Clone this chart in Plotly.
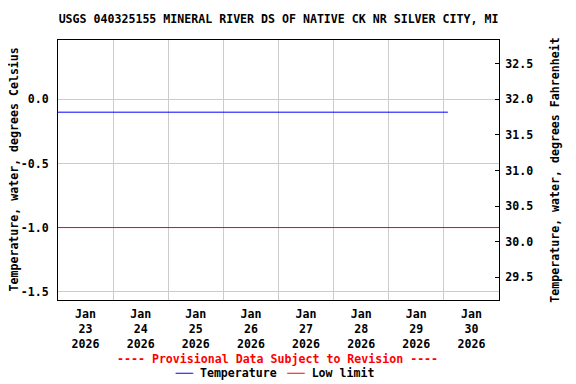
import plotly.graph_objects as go

# ---- data ----
temp_times = ["2026-01-23 00:00", "2026-01-30 01:45"]
temp_c = [-0.1, -0.1]
limit_times = ["2026-01-23 00:00", "2026-01-31 00:00"]
low_limit_c = [-1.0, -1.0]

x_tick_vals = ["2026-01-23 12:00", "2026-01-24 12:00", "2026-01-25 12:00", "2026-01-26 12:00",
               "2026-01-27 12:00", "2026-01-28 12:00", "2026-01-29 12:00", "2026-01-30 12:00"]
x_tick_text = ["Jan<br>23<br>2026", "Jan<br>24<br>2026", "Jan<br>25<br>2026", "Jan<br>26<br>2026",
               "Jan<br>27<br>2026", "Jan<br>28<br>2026", "Jan<br>29<br>2026", "Jan<br>30<br>2026"]
y_ticks_c = [0.0, -0.5, -1.0, -1.5]
y_ticks_f = [29.5, 30.0, 30.5, 31.0, 31.5, 32.0, 32.5]
c_range = [-1.565, 0.463]
f_range = [c * 1.8 + 32 for c in c_range]
temp_f = [c * 1.8 + 32 for c in temp_c]

title_text = "USGS 040325155 MINERAL RIVER DS OF NATIVE CK NR SILVER CITY, MI"

FONT = "DejaVu Sans Mono"
FS = 11.6
OFF = 8  # page body margin offset

fig = go.Figure()
fig.add_trace(go.Scatter(x=temp_times, y=temp_c, mode="lines", name="Temperature",
                         line=dict(color="#0000ff", width=1), showlegend=False))
fig.add_trace(go.Scatter(x=limit_times, y=low_limit_c, mode="lines", name="Low limit",
                         line=dict(color="#ff0000", width=1), showlegend=False))
# Fahrenheit companion (invisible) so the right axis is drawn
fig.add_trace(go.Scatter(x=temp_times, y=temp_f, mode="lines", yaxis="y2",
                         line=dict(color="rgba(0,0,0,0)", width=1), hoverinfo="skip",
                         showlegend=False))

fig.update_layout(
    width=576, height=384,
    margin=dict(l=58 - OFF, r=576 - (499 - OFF), t=40 - OFF, b=384 - (300 - OFF),
                autoexpand=False),
    paper_bgcolor="white", plot_bgcolor="white",
    font=dict(family=FONT, size=FS, color="black", weight="bold"),
    title=dict(text=title_text, x=(278.5 - OFF) / 576, xanchor="center",
               y=1 - (19 - OFF) / 384, yanchor="middle",
               font=dict(family=FONT, size=FS, color="black", weight="bold")),
    xaxis=dict(
        type="date", range=["2026-01-23 00:00", "2026-01-31 00:00"], automargin=False,
        tickmode="array", tickvals=x_tick_vals, ticktext=x_tick_text,
        showgrid=False, ticks="", ticklabelstandoff=3,
        showline=True, linecolor="black", linewidth=1, mirror=True,
        minor=dict(showgrid=True, gridcolor="#cccccc", gridwidth=1,
                   tick0="2026-01-23 00:00", dtick=86400000, ticks=""),
        zeroline=False,
    ),
    yaxis=dict(
        range=c_range, tickmode="array", tickvals=y_ticks_c, automargin=False,
        ticktext=[f"{v:.1f}" for v in y_ticks_c],
        showgrid=True, gridcolor="#cccccc", gridwidth=1, zeroline=False,
        ticks="", ticklabelstandoff=6,
        showline=True, linecolor="black", linewidth=1, mirror=True,
    ),
    yaxis2=dict(
        overlaying="y", side="right", range=f_range, automargin=False,
        tickmode="array", tickvals=y_ticks_f, ticktext=[f"{v:.1f}" for v in y_ticks_f],
        showgrid=False, zeroline=False, ticks="inside", ticklen=4, tickcolor="black",
        ticklabelstandoff=3,
        showline=True, linecolor="black", linewidth=1,
        title=dict(text="Temperature, water, degrees Fahrenheit", standoff=18,
                   font=dict(family=FONT, size=FS, weight="bold")),
    ),
    showlegend=False,
)

# left axis title
fig.add_annotation(text="Temperature, water, degrees Celsius",
                   xref="paper", yref="paper", x=(13.5 - 58) / 441, xanchor="center",
                   y=(300 - 170) / 260, yanchor="middle", textangle=-90, showarrow=False,
                   borderpad=0,
                   font=dict(family=FONT, size=FS, color="black", weight="bold"))

# provisional note and legend below the plot
fig.add_annotation(text="---- Provisional Data Subject to Revision ----",
                   xref="paper", yref="paper", x=(277.5 - 58) / 441, xanchor="center",
                   y=-(359 - 300) / 260, yanchor="middle", showarrow=False,
                   font=dict(family=FONT, size=FS, color="#ff0000", weight="bold"))
fig.add_annotation(
    text='<span style="color:#0000ff;font-weight:normal">╶──</span> Temperature '
         '<span style="color:#ff0000;font-weight:normal">╶──</span> Low limit',
    xref="paper", yref="paper", x=(273 - 58) / 441, xanchor="center",
    y=-(372.5 - 300) / 260, yanchor="middle", showarrow=False,
    font=dict(family=FONT, size=FS, color="black", weight="bold"))

fig.write_html("out.html")
